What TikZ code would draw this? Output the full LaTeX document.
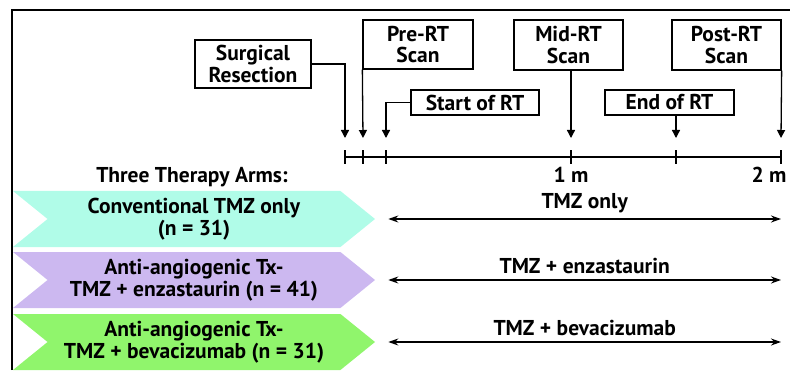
\documentclass[tikz,border=0pt]{standalone}
\usepackage{fontspec}
\setmainfont{PT Sans}
\usetikzlibrary{calc,positioning,shapes.symbols,arrows.meta}
\definecolor{armcyan}{HTML}{B0FCE8}
\definecolor{armpurple}{HTML}{CCB8F0}
\definecolor{armgreen}{HTML}{90F56C}
\tikzset{
  eventbox/.style={draw, line width=1.3pt, inner sep=0pt, align=center,
    font=\bfseries\fontsize{21.5}{21.5}\selectfont},
  armshape/.style={shape=signal, signal from=west, signal to=east,
    signal pointer angle=78, minimum width=362pt, minimum height=56pt,
    inner sep=0pt, align=center, font=\bfseries\fontsize{21.5}{22}\selectfont},
  pointer/.style={line width=1.3pt, -{Triangle[length=8pt,width=8pt]}},
  span/.style={line width=1.3pt, {Stealth[length=10pt,width=7pt]}-{Stealth[length=10pt,width=7pt]}},
  plain/.style={font=\bfseries\fontsize{21.5}{22}\selectfont}
}
\begin{document}
\begin{tikzpicture}[x=1pt,y=1pt]
  \useasboundingbox (0,0) rectangle (790,370);
  \clip (0,0) rectangle (790,370);
  %%%%% FRAME %%%%%
  \draw[line width=2pt] (12,0) -- (12,360) -- (790,360);

  %%%%% EVENTS %%%%%
  \node[eventbox, minimum width=116pt, minimum height=48pt] (surg) at (253,306) {Surgical\\Resection};
  \node[eventbox, minimum width=110pt, minimum height=49pt] (pre) at (418,325.5) {Pre-RT\\Scan};
  \node[eventbox, minimum width=128pt, minimum height=25pt] (start) at (475,267.5) {Start of RT};
  \node[eventbox, minimum width=109pt, minimum height=50pt] (mid) at (568.5,325) {Mid-RT\\Scan};
  \node[eventbox, minimum width=129pt, minimum height=25pt] (end) at (669.5,267.5) {End of RT};
  \node[eventbox, minimum width=109pt, minimum height=50pt] (post) at (726.5,325) {Post-RT\\Scan};

  %%%%% TIMELINE %%%%%
  \foreach \name/\x in {t0/345, t1/363, t2/386, t3/571, t4/676, t5/781}{
    \coordinate (\name) at (\x,213);
    \coordinate (a\name) at (\x,232);
    \draw[line width=1.3pt] (\x,206) -- (\x,220);
  }
  \draw[line width=1.3pt] (t0) -- (t5);
  \node[plain] (m1) at (571,195) {1 m};
  \node[plain, anchor=east] (m2) at (790,195) {2 m};

  \draw[pointer] (surg.east) -| (at0);
  \draw[pointer] (pre.south west) -- (at1);
  \draw[pointer] (start.west) -| (at2);
  \draw[pointer] (mid.south -| at3) -- (at3);
  \draw[pointer] (end.south -| at4) -- (at4);
  \draw[pointer] (post.south east) -- (at5);

  %%%%% ARMS %%%%%
  \node[plain] (title) at (192,193) {Three Therapy Arms:};
  \node[armshape, fill=armcyan] (arm1) at (194,151) {Conventional TMZ only\\(n = 31)};
  \node[armshape, fill=armpurple] (arm2) at (194,90) {Anti-angiogenic Tx-\\TMZ + enzastaurin (n = 41)};
  \node[armshape, fill=armgreen] (arm3) at (194,28) {Anti-angiogenic Tx-\\TMZ + bevacizumab (n = 31)};

  \draw[span] ($(arm1.east)+(13,0)$) -- node[plain, above=2pt] {TMZ only} (arm1.east -| t5);
  \draw[span] ($(arm2.east)+(13,0)$) -- node[plain, above=2pt] {TMZ + enzastaurin} (arm2.east -| t5);
  \draw[span] ($(arm3.east)+(13,0)$) -- node[plain, above=2pt] {TMZ + bevacizumab} (arm3.east -| t5);
\end{tikzpicture}
\end{document}
